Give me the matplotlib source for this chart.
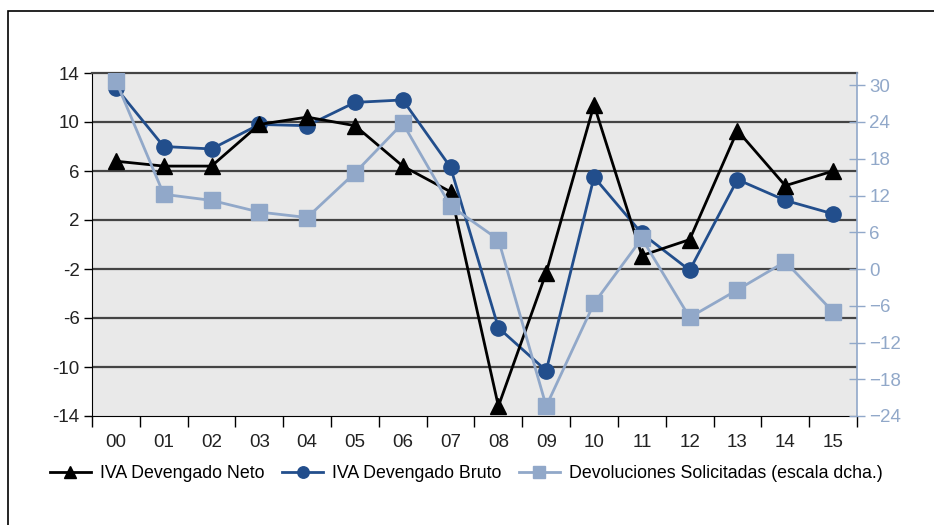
import numpy as np
import matplotlib
matplotlib.use("Agg")
import matplotlib.pyplot as plt
from matplotlib.patches import Rectangle

plt.rcParams['font.family'] = ['Liberation Sans', 'DejaVu Sans']

# data
years = ['00', '01', '02', '03', '04', '05', '06', '07',
         '08', '09', '10', '11', '12', '13', '14', '15']
neto = [6.8, 6.4, 6.4, 9.8, 10.4, 9.7, 6.4, 4.3,
        -13.2, -2.3, 11.4, -0.9, 0.4, 9.3, 4.8, 6.0]
bruto = [12.8, 8.0, 7.8, 9.8, 9.7, 11.6, 11.8, 6.3,
         -6.8, -10.3, 5.5, 0.9, -2.1, 5.3, 3.6, 2.5]
devol = [30.7, 12.2, 11.2, 9.3, 8.4, 15.7, 23.8, 10.3,
         4.8, -22.4, -5.6, 5.0, -7.9, -3.4, 1.2, -7.0]

lab_neto = 'IVA Devengado Neto'
lab_bruto = 'IVA Devengado Bruto'
lab_devol = 'Devoluciones Solicitadas (escala dcha.)'

c_black = '#000000'
c_blue = '#224e8c'
c_light = '#91a8c9'
c_grid = '#444444'

fig = plt.figure(figsize=(9.34, 5.25), dpi=100)
ax = fig.add_axes([92/934, 1-416/525, (857-92)/934, (416-73)/525])
ax2 = ax.twinx()

x = np.arange(len(years))

# left axis: background, grid, neto and bruto
ax.set_facecolor('#e9e9e9')
ax.set_ylim(-14, 14)
ax.set_xlim(-0.5, len(years) - 0.5)
ax.set_yticks(np.arange(-14, 15, 4))
for v in np.arange(-10, 11, 4):
    ax.axhline(v, color=c_grid, lw=1.6, zorder=1)

ax.set_xticks(np.arange(-0.5, len(years), 1))
ax.set_xticklabels([])
ax.set_xticks(x, minor=True)
ax.set_xticklabels(years, minor=True)
ax.tick_params(axis='x', which='major', direction='out', length=8, width=1, color='black')
ax.tick_params(axis='x', which='minor', length=0, pad=13, labelsize=13.5, labelcolor='#222222')
ax.tick_params(axis='y', direction='out', length=6, width=1, labelsize=13.5, labelcolor='#222222', pad=3)
ax.set_yticklabels(['%d' % v for v in np.arange(-14, 15, 4)])

ax.spines['left'].set_color('black')
ax.spines['bottom'].set_color('black')
ax.spines['top'].set_color(c_grid)
ax.spines['top'].set_linewidth(1.6)
ax.spines['right'].set_visible(False)

l2, = ax.plot(x, bruto, color=c_blue, lw=2, marker='o', ms=11, zorder=4, label=lab_bruto)
l1, = ax.plot(x, neto, color=c_black, lw=2, marker='^', ms=11, zorder=5, label=lab_neto)

# right axis: devoluciones on top
ax2.set_ylim(-24, 32)
ax2.set_yticks(np.arange(-24, 31, 6))
ax2.tick_params(axis='y', direction='inout', length=12, width=1, color=c_light,
                labelcolor=c_light, labelsize=13.5, pad=3)
ax2.spines['right'].set_color(c_light)
ax2.spines['right'].set_linewidth(1.2)
for s in ['left', 'top', 'bottom']:
    ax2.spines[s].set_visible(False)
ax2.patch.set_visible(False)

l3, = ax2.plot(x, devol, color=c_light, lw=2, marker='s', ms=12, zorder=3, label=lab_devol)

fig.legend([l1, l2, l3], [lab_neto, lab_bruto, lab_devol], loc='upper left',
           bbox_to_anchor=(34/934, 1-449/525), ncol=3, frameon=False,
           fontsize=12.8, handlelength=2.3, handletextpad=0.5, columnspacing=1.0,
           markerscale=0.75)

fig.patches.append(Rectangle((8/934, -0.02), 1.0, 1-11/525 + 0.02, transform=fig.transFigure,
                             fill=False, edgecolor='black', lw=1.2))

fig.savefig('out.png', dpi=100)
